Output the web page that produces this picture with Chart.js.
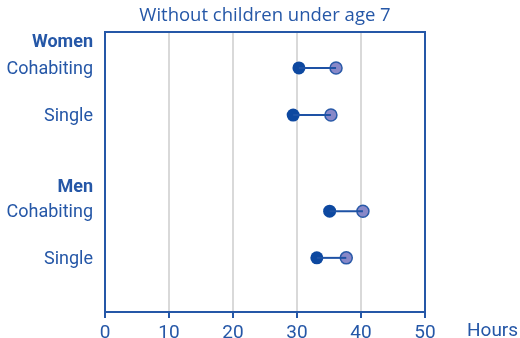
<!DOCTYPE html>
<html>
<head>
<meta charset="utf-8">
<script src="https://cdn.jsdelivr.net/npm/chart.js@4/dist/chart.umd.min.js"></script>
<style>
  html, body { margin: 0; padding: 0; background: #fff; }
  #wrap { width: 520px; height: 338px; }
</style>
</head>
<body>
<div id="wrap"><canvas id="myChart"></canvas></div>
<script>
// rows, top to bottom
var groups = ["Women", "Men"];
var rowLabels = ["Cohabiting", "Single", "Cohabiting", "Single"];
// hours per week, two dots per row
var hoursDark = [30.3, 29.4, 35.1, 33.1];
var hoursLight = [36.1, 35.3, 40.3, 37.7];
var xTicks = [0, 10, 20, 30, 40, 50];

// where rows and group headers sit on the (reversed) y scale
var rowY = [0.77, 1.78, 3.84, 4.84];
var groupY = [0.22, 3.34];
var labelNudge = 0.03; // text sits a touch low of the dot centre

var blue = "#2557a7";
var darkDot = "#0d48a0";
var lightDot = "#8888c8";

// y ticks: headers first, then rows
var yTicks = [];
for (var g = 0; g < groups.length; g++) {
    yTicks.push({value: groupY[g], label: groups[g], bold: true});
}
for (var r = 0; r < rowLabels.length; r++) {
    yTicks.push({value: rowY[r] + labelNudge, label: rowLabels[r], bold: false});
}

var datasets = [];
// connecting segments
for (var i = 0; i < rowLabels.length; i++) {
    datasets.push({
        type: "line",
        data: [{x: hoursDark[i], y: rowY[i]}, {x: hoursLight[i], y: rowY[i]}],
        borderColor: "#1e52a5",
        borderWidth: 2,
        pointRadius: 0,
        fill: false
    });
}
datasets.push({
    type: "scatter",
    data: hoursLight.map(function(v, i) { return {x: v, y: rowY[i]}; }),
    backgroundColor: lightDot,
    borderColor: "#2a5aa8",
    borderWidth: 1.5,
    pointRadius: 6
});
datasets.push({
    type: "scatter",
    data: hoursDark.map(function(v, i) { return {x: v, y: rowY[i]}; }),
    backgroundColor: darkDot,
    borderColor: darkDot,
    borderWidth: 0,
    pointRadius: 6.5
});

// title above the plot, box on top/right, unit label after the x ticks
var frame = {
    id: "frame",
    afterDraw: function(chart) {
        var ctx = chart.ctx;
        var a = chart.chartArea;
        ctx.save();
        ctx.strokeStyle = blue;
        ctx.lineWidth = 2;
        ctx.beginPath();
        ctx.moveTo(a.left, a.top);
        ctx.lineTo(a.right, a.top);
        ctx.lineTo(a.right, a.bottom);
        ctx.stroke();

        ctx.fillStyle = blue;
        ctx.font = "18.5px 'Open Sans'";
        ctx.textAlign = "center";
        ctx.textBaseline = "middle";
        ctx.fillText("Without children under age 7", (a.left + a.right) / 2, 16);

        ctx.font = "19px Roboto";
        ctx.textAlign = "left";
        ctx.fillText("Hours", 467, 331);
        ctx.restore();
    }
};

var ctx = document.getElementById("myChart").getContext("2d");
var myChart = new Chart(ctx, {
    type: "scatter",
    data: {datasets: datasets},
    plugins: [frame],
    options: {
        responsive: true,
        maintainAspectRatio: false,
        animation: false,
        layout: {padding: {top: 32, right: 95, bottom: 0, left: 0}},
        plugins: {
            legend: {display: false},
            tooltip: {enabled: false}
        },
        scales: {
            x: {
                type: "linear",
                min: 0,
                max: 50,
                afterBuildTicks: function(scale) {
                    scale.ticks = xTicks.map(function(v) { return {value: v}; });
                },
                afterFit: function(scale) { scale.height = 26; },
                grid: {color: "#d9d9d9", lineWidth: 2, tickColor: blue, tickLength: 6, tickWidth: 2},
                border: {display: true, color: blue, width: 2},
                ticks: {color: blue, font: {family: "Roboto", size: 19}, padding: 4, maxRotation: 0}
            },
            y: {
                type: "linear",
                reverse: true,
                min: 0,
                max: 6,
                afterBuildTicks: function(scale) {
                    scale.ticks = yTicks.map(function(t) { return {value: t.value}; });
                },
                afterFit: function(scale) { scale.width = 105; },
                grid: {display: false, drawTicks: false},
                border: {display: true, color: blue, width: 2},
                ticks: {
                    color: blue,
                    padding: 12,
                    autoSkip: false,
                    callback: function(value, index) { return yTicks[index].label; },
                    font: function(c) {
                        var t = yTicks[c.index];
                        return {family: "Roboto", size: 18, weight: t && t.bold ? "bold" : "normal"};
                    }
                }
            }
        }
    }
});
</script>
</body>
</html>
